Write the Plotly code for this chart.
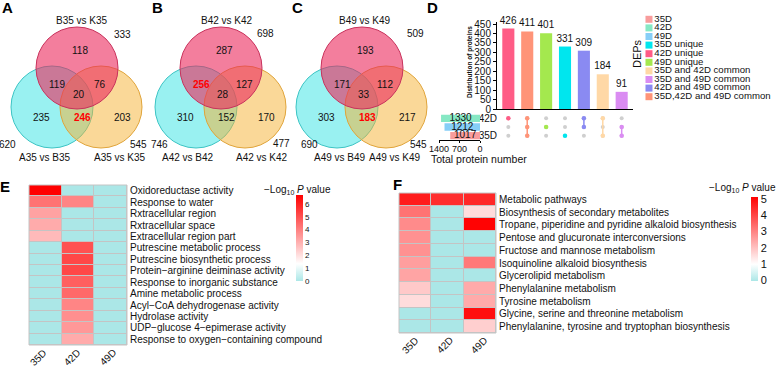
import plotly.graph_objects as go

W, H = 778, 367
FONT = "Liberation Sans, Arial, sans-serif"


def px(x):
    return x / W


def py(y):
    return 1 - y / H


# ---------------- data ----------------
venn_letters = ["A", "B", "C"]
venn_top_titles = ["B35 vs K35", "B42 vs K42", "B49 vs K49"]
venn_left_titles = ["A35 vs B35", "A42 vs B42", "A49 vs B49"]
venn_right_titles = ["A35 vs K35", "A42 vs K42", "A49 vs K49"]
# regions: only top, top&left, top&right, all, only left, left&right, only right
venn_regions_A = [118, 119, 76, 20, 235, 246, 203]
venn_regions_B = [287, 256, 127, 28, 310, 152, 170]
venn_regions_C = [193, 171, 112, 33, 303, 183, 217]
# totals: top, left, right
venn_totals_A = [333, 620, 545]
venn_totals_B = [698, 746, 477]
venn_totals_C = [509, 690, 545]
venn_highlight = [5, 1, 5]

dep_legend_names = ["35D", "42D", "49D", "35D unique", "42D unique", "49D unique",
                    "35D and 42D common", "35D and 49D common", "42D and 49D common",
                    "35D,42D and 49D common"]
dep_legend_colors = ["#F89C9C", "#86E8C4", "#86CEF7", "#00E6EE", "#FF5C86", "#A4E84E",
                     "#FFD8A6", "#DA8CF2", "#8A8AF2", "#FF9478"]

upset_groups = ["42D unique", "35D,42D and 49D common", "49D unique", "35D unique",
                "42D and 49D common", "35D and 42D common", "35D and 49D common"]
upset_counts = [426, 411, 401, 331, 309, 184, 91]
upset_members = [["42D"], ["35D", "49D", "42D"], ["49D"], ["35D"],
                 ["49D", "42D"], ["35D", "42D"], ["35D", "49D"]]
set_names = ["35D", "49D", "42D"]          # bottom -> top
set_totals = [1017, 1212, 1330]
total_ticks = [1400, 700, 0]
dist_ticks = list(range(0, 451, 50))

heat_cols = ["35D", "42D", "49D"]
go_terms = ["Oxidoreductase activity", "Response to water", "Rxtracellular region",
            "Rxtracellular space", "Extracellular region part",
            "Putrescine metabolic process", "Putrescine biosynthetic process",
            "Protein\u2212arginine deiminase activity", "Response to inorganic substance",
            "Amine metabolic process", "Acyl\u2212CoA dehydrogenase activity",
            "Hydrolase activity", "UDP\u2212glucose 4\u2212epimerase activity",
            "Response to oxygen\u2212containing compound"]
go_35D = [6.7, 4.3, 3.3, 3.1, 2.8, 0, 0, 0, 0, 0, 0, 0, 0, 0]
go_42D = [0, 3.9, 0, 0, 0, 5.0, 5.2, 5.2, 4.7, 4.5, 3.9, 3.7, 3.5, 3.1]
go_49D = [0, 0, 0, 0, 0, 0, 0, 0, 0, 0, 0, 0, 0, 0]
go_ticks = [0, 1, 2, 3, 4, 5, 6]

kegg_terms = ["Metabolic pathways", "Biosynthesis of secondary metabolites",
              "Tropane, piperidine and pyridine alkaloid biosynthesis",
              "Pentose and glucuronate interconversions", "Fructose and mannose metabolism",
              "Isoquinoline alkaloid biosynthesis", "Glycerolipid metabolism",
              "Phenylalanine metabolism", "Tyrosine metabolism",
              "Glycine, serine and threonine metabolism",
              "Phenylalanine, tyrosine and tryptophan biosynthesis"]
kegg_35D = [4.7, 3.3, 2.9, 2.8, 2.8, 2.6, 2.5, 1.9, 1.6, 0, 0]
kegg_42D = [4.4, 0, 0, 0, 0, 0, 0, 0, 0, 0, 0]
kegg_49D = [4.5, 1.6, 5.1, 0, 0, 3.2, 0, 2.4, 2.4, 4.9, 1.8]
kegg_ticks = [0, 1, 2, 3, 4, 5]

# ---------------- figure ----------------
fig = go.Figure()
ann = []
shapes = []

# ----- Venn diagrams (A-C)
venn_regions = [venn_regions_A, venn_regions_B, venn_regions_C]
venn_totals = [venn_totals_A, venn_totals_B, venn_totals_C]
venn_cx = [77, 221, 362]
venn_cy = 68
R = 41
circ = [  # (dx, dy, fill, line)
    (-25, 39, "rgba(0,220,220,0.40)", "#3CC4C4"),
    (24, 39, "rgba(245,178,50,0.50)", "#E0A43A"),
    (0, 0, "rgba(235,40,92,0.60)", "#C8325C"),
]
region_off = [(3, -18), (-20, 16), (23, 16), (2, 27), (-36, 50), (5, 50), (45, 50)]
total_pos = [[(122, 34), (8, 144), (138, 144)],
             [(265, 33), (159, 144), (281, 143)],
             [(415, 33), (309, 144), (418, 145)]]
title_pos = [[(82, 21), (45, 157), (120, 157)],
             [(227, 21), (188, 157), (262, 157)],
             [(365, 20), (340, 157), (395, 157)]]
letter_pos = [(7, 8), (157, 8), (297, 8)]

for i in range(3):
    cx = venn_cx[i]
    for dx, dy, fill, line in circ:
        shapes.append(dict(type="circle", xref="paper", yref="paper",
                           x0=px(cx + dx - R), x1=px(cx + dx + R),
                           y0=py(venn_cy + dy + R), y1=py(venn_cy + dy - R),
                           fillcolor=fill, line=dict(color=line, width=1), layer="above"))
    for k, v in enumerate(venn_regions[i]):
        dx, dy = region_off[k]
        hl = k == venn_highlight[i]
        ann.append(dict(x=px(cx + dx), y=py(venn_cy + dy), text=f"<b>{v}</b>" if hl else str(v),
                        font=dict(size=10, color="#FF0000" if hl else "#111111")))
    for k, v in enumerate(venn_totals[i]):
        x, y = total_pos[i][k]
        ann.append(dict(x=px(x), y=py(y), text=str(v), font=dict(size=10, color="#111111")))
    for k, t in enumerate([venn_top_titles[i], venn_left_titles[i], venn_right_titles[i]]):
        x, y = title_pos[i][k]
        ann.append(dict(x=px(x), y=py(y), text=t, font=dict(size=10, color="#111111")))
    lx, ly = letter_pos[i]
    ann.append(dict(x=px(lx), y=py(ly), text=f"<b>{venn_letters[i]}</b>",
                    font=dict(size=15, color="black")))

# ----- Panel D: upset plot
col_of = dict(zip(dep_legend_names, dep_legend_colors))
bar_colors = [col_of[g] for g in upset_groups]
xs = list(range(len(upset_groups)))
fig.add_trace(go.Bar(x=xs, y=upset_counts, marker=dict(color=bar_colors, line=dict(width=0)),
                     width=0.64, text=[str(c) for c in upset_counts], textposition="outside",
                     textfont=dict(size=10, color="#111111"), constraintext="none",
                     cliponaxis=False, xaxis="x", yaxis="y", showlegend=False))

# matrix: grey background dots
gx, gy = [], []
for j in xs:
    for s in set_names:
        gx.append(j)
        gy.append(s)
fig.add_trace(go.Scatter(x=gx, y=gy, mode="markers", marker=dict(size=4, color="#CFCFCF"),
                         xaxis="x2", yaxis="y2", showlegend=False, hoverinfo="skip"))
for j, mem in enumerate(upset_members):
    mem_sorted = [s for s in set_names if s in mem]
    fig.add_trace(go.Scatter(x=[j] * len(mem_sorted), y=mem_sorted, mode="lines+markers",
                             line=dict(color=bar_colors[j], width=1.5),
                             marker=dict(size=4.5, color=bar_colors[j]),
                             xaxis="x2", yaxis="y2", showlegend=False, hoverinfo="skip"))

# total bars
tot_colors = [col_of[s] for s in set_names]
fig.add_trace(go.Bar(x=set_totals, y=set_names, orientation="h", width=0.84,
                     marker=dict(color=tot_colors, line=dict(width=0)),
                     xaxis="x3", yaxis="y2", showlegend=False))
fig.add_trace(go.Scatter(x=[t / 2 for t in set_totals], y=set_names, mode="text",
                         text=[str(t) for t in set_totals],
                         textfont=dict(size=10, color="#111111"), cliponaxis=False,
                         xaxis="x3", yaxis="y2", showlegend=False, hoverinfo="skip"))

# legend (drawn as markers)
fig.add_trace(go.Scatter(x=[0.03] * len(dep_legend_names), y=list(range(len(dep_legend_names))),
                         mode="markers+text", text=dep_legend_names, textposition="middle right",
                         textfont=dict(size=9.6, color="#111111"),
                         marker=dict(symbol="square", size=7, color=dep_legend_colors),
                         cliponaxis=False, xaxis="x4", yaxis="y4", showlegend=False,
                         hoverinfo="skip"))

ann.append(dict(x=px(432), y=py(8), text="<b>D</b>", font=dict(size=15, color="black")))
ann.append(dict(x=px(470), y=py(62), text="<b>Distribution of proteins</b>", textangle=-90,
                font=dict(size=6.5, color="#111111")))
ann.append(dict(x=px(637), y=py(54), text="DEPs", textangle=-90,
                font=dict(size=11, color="#111111")))
ann.append(dict(x=px(479), y=py(159), text="Total protein number",
                font=dict(size=10.5, color="#111111")))

# ----- Heatmaps E & F
CS = [[0, "#ABE7E7"], [0.2, "#FFFFFF"], [1, "#FF0000"]]
zE = [list(r) for r in zip(go_35D, go_42D, go_49D)]
zF = [list(r) for r in zip(kegg_35D, kegg_42D, kegg_49D)]
fig.add_trace(go.Heatmap(z=zE, x=heat_cols, y=go_terms, coloraxis="coloraxis",
                         xgap=1, ygap=1, xaxis="x5", yaxis="y5"))
fig.add_trace(go.Heatmap(z=zF, x=heat_cols, y=kegg_terms, coloraxis="coloraxis2",
                         xgap=1, ygap=1, xaxis="x6", yaxis="y6"))
for ax in ["x5", "x6"]:
    yy = "y5" if ax == "x5" else "y6"
    shapes.append(dict(type="rect", xref=f"{ax} domain", yref=f"{yy} domain",
                       x0=0, x1=1, y0=0, y1=1, fillcolor="#C4C4C4",
                       line=dict(width=0), layer="below"))
    shapes.append(dict(type="rect", xref=f"{ax} domain", yref=f"{yy} domain",
                       x0=0, x1=1, y0=0, y1=1, fillcolor="rgba(0,0,0,0)",
                       line=dict(color="#C4C4C4", width=1), layer="above"))

# rotated column labels under the heatmaps
for ax, yc, shifts in [("x5", 357.5, (-7, -6, -3)), ("x6", 345.5, (-5, -3, -1))]:
    for c, sh in zip(heat_cols, shifts):
        ann.append(dict(x=c, xref=ax, y=py(yc), text=c, textangle=-45,
                        xanchor="center", yanchor="middle", xshift=sh, borderpad=0,
                        font=dict(size=10, color="#111111")))

ann.append(dict(x=px(5), y=py(186), text="<b>E</b>", font=dict(size=15, color="black")))
ann.append(dict(x=px(398), y=py(184), text="<b>F</b>", font=dict(size=15, color="black")))
ann.append(dict(x=px(297), y=py(190), text="\u2212Log<sub>10</sub> <i>P</i> value",
                font=dict(size=10, color="#111111")))
ann.append(dict(x=1, xanchor="right", y=py(188), text="\u2212Log<sub>10</sub> <i>P</i> value",
                font=dict(size=10, color="#111111")))

for a in ann:
    a.setdefault("xref", "paper")
    a.setdefault("yref", "paper")
    a.setdefault("showarrow", False)
    a.setdefault("xanchor", "center")
    a.setdefault("yanchor", "middle")

tickf = dict(size=10, color="#111111", family=FONT)
common = dict(automargin=False, showgrid=False, zeroline=False)
fig.update_layout(
    width=W, height=H, autosize=False,
    margin=dict(l=0, r=0, t=0, b=0, pad=0),
    paper_bgcolor="white", plot_bgcolor="rgba(0,0,0,0)",
    font=dict(family=FONT, color="#111111"),
    showlegend=False,
    annotations=ann, shapes=shapes,
    xaxis=dict(domain=[px(497), px(633)], range=[-0.6, 6.6], anchor="y", showline=True,
               linecolor="black", linewidth=1, showticklabels=False, ticks="",
               fixedrange=True, **common),
    yaxis=dict(domain=[py(109), py(22)], range=[0, 461], anchor="x", showline=True,
               linecolor="black", linewidth=1, ticks="outside", ticklen=3, tickcolor="black",
               tickvals=dist_ticks, tickfont=tickf, **common),
    xaxis2=dict(domain=[px(497), px(633)], range=[-0.6, 6.6], anchor="y2", visible=False,
                **common),
    yaxis2=dict(domain=[py(140), py(114)], anchor="free", position=px(497), type="category",
                categoryorder="array", categoryarray=set_names, range=[-0.5, 2.5],
                showline=False, ticks="", tickfont=tickf, **common),
    xaxis3=dict(domain=[px(439), px(480)], range=[1400, 0], anchor="y2", showline=True,
                linecolor="black", linewidth=1, ticks="outside", ticklen=2, tickcolor="black",
                tickvals=total_ticks, tickangle=0, ticklabelstandoff=-2,
                tickfont=dict(size=9, color="#111111"), **common),
    xaxis4=dict(domain=[px(645), 1], range=[0, 1], anchor="y4", visible=False, **common),
    yaxis4=dict(domain=[py(101), py(15)], range=[9.5, -0.5], anchor="x4", visible=False,
                **common),
    xaxis5=dict(domain=[px(29), px(127)], anchor="y5", type="category",
                range=[-0.5, 2.5], showticklabels=False, ticks="", showline=False, **common),
    yaxis5=dict(domain=[py(345), py(185)], anchor="x5", side="right", type="category",
                range=[len(go_terms) - 0.5, -0.5],
                tickmode="array", tickvals=go_terms, ticklabelstandoff=2,
                tickfont=tickf, ticks="", showline=False, **common),
    xaxis6=dict(domain=[px(399), px(496)], anchor="y6", type="category",
                range=[-0.5, 2.5], showticklabels=False, ticks="", showline=False, **common),
    yaxis6=dict(domain=[py(333), py(193)], anchor="x6", side="right", type="category",
                range=[len(kegg_terms) - 0.5, -0.5],
                tickmode="array", tickvals=kegg_terms, ticklabelstandoff=2,
                tickfont=tickf, ticks="", showline=False, **common),
    coloraxis=dict(cmin=0, cmax=6.7, colorscale=CS,
                   colorbar=dict(x=px(296), xanchor="left", y=py(238), yanchor="middle",
                                 len=86, lenmode="pixels", thickness=7, thicknessmode="pixels",
                                 xpad=0, ypad=0, tickvals=go_ticks, ticks="",
                                 tickfont=dict(size=8, color="#111111"), outlinewidth=0)),
    coloraxis2=dict(cmin=0, cmax=5.15, colorscale=CS,
                    colorbar=dict(x=px(751), xanchor="left", y=py(238.5), yanchor="middle",
                                  len=84, lenmode="pixels", thickness=7, thicknessmode="pixels",
                                  xpad=0, ypad=0, tickvals=kegg_ticks, ticks="",
                                  tickfont=dict(size=11, color="#111111"), outlinewidth=0)),
)

fig.write_html("out.html", config={"displayModeBar": False},
               post_script="document.body.style.margin='0px';"
                           "document.body.style.overflow='hidden';")
